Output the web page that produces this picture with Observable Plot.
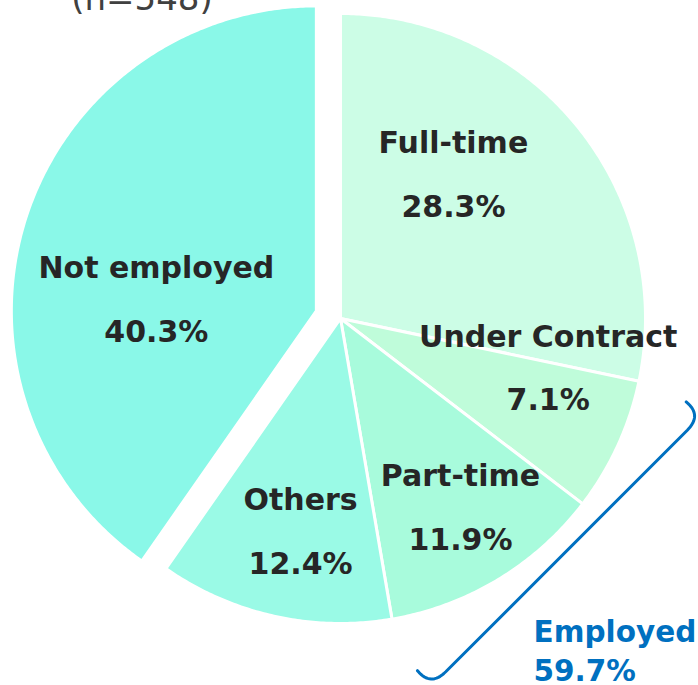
<!DOCTYPE html>
<html><head><meta charset="utf-8">
<script src="https://cdn.jsdelivr.net/npm/d3@7"></script>
<script src="https://cdn.jsdelivr.net/npm/@observablehq/plot@0.6"></script>
<style>html,body{margin:0;padding:0;background:#fff;} #chart{width:698px;height:685px;overflow:hidden}</style>
</head><body><div id="chart"></div>
<script>
// ---- data ----
const categories = ["Full-time", "Under Contract", "Part-time", "Others", "Not employed"];
const shares = [28.3, 7.1, 11.9, 12.4, 40.3];
const valueLabels = ["28.3%", "7.1%", "11.9%", "12.4%", "40.3%"];
const sampleLabel = "(n=548)";
const groupName = "Employed";
const groupMembers = ["Full-time", "Under Contract", "Part-time", "Others"];

// ---- styling / layout ----
const sliceColors = ["#ccfde6", "#bffcda", "#a8fbdc", "#9afae6", "#8af8e8"];
const explode = [0, 0, 0, 0, 0.083];
const labelAngle = [38.1, 103.4, 147.6, 190.6, 274.1];
const labelRadius = [0.60, 0.70, 0.734, 0.711, 0.526];
const bracketLayout = {angle: 135, dist: 1.063, uMin: -0.575, uMax: 0.545, hookOut: 0.07, hookIn: 0.068};
const groupLabelPos = {x: 0.633, y: -1.187};
const sampleLabelPos = {x: -0.651, y: 1.013};

const rad = Math.PI / 180;
const total = d3.sum(shares);
let acc = 0;
const slices = categories.map((c, i) => {
  const a0 = acc / total * 2 * Math.PI; acc += shares[i];
  const a1 = acc / total * 2 * Math.PI; const mid = (a0 + a1) / 2;
  return {name: c, a0, a1, ox: explode[i] * Math.sin(mid), oy: explode[i] * Math.cos(mid)};
});
const slicePoints = slices.flatMap(s => {
  const n = Math.max(2, Math.ceil((s.a1 - s.a0) / rad * 2));
  const pts = [{name: s.name, x: s.ox, y: s.oy}];
  for (let k = 0; k <= n; k++) {
    const a = s.a0 + (s.a1 - s.a0) * k / n;
    pts.push({name: s.name, x: s.ox + Math.sin(a), y: s.oy + Math.cos(a)});
  }
  pts.push({name: s.name, x: s.ox, y: s.oy});
  return pts;
});
const labels = slices.map((s, i) => ({
  x: s.ox + labelRadius[i] * Math.sin(labelAngle[i] * rad),
  y: s.oy + labelRadius[i] * Math.cos(labelAngle[i] * rad),
  text: categories[i] + "\n" + valueLabels[i]
}));

// bracket in (u along, v outward) frame
const B = bracketLayout, phi = B.angle * rad;
const nv = [Math.sin(phi), Math.cos(phi)], tv = [-Math.cos(phi), Math.sin(phi)];
function toXY(u, v) { return {x: u * tv[0] + v * nv[0], y: u * tv[1] + v * nv[1]}; }
function quad(p0, p1, p2, n) { const out = []; for (let k = 0; k <= n; k++) { const t = k / n, m = 1 - t; out.push([m*m*p0[0] + 2*m*t*p1[0] + t*t*p2[0], m*m*p0[1] + 2*m*t*p1[1] + t*t*p2[1]]); } return out; }
const bUV = [
  ...quad([B.uMax + B.hookOut * 0.9, B.dist - B.hookIn], [B.uMax + B.hookOut, B.dist], [B.uMax, B.dist], 16),
  ...quad([B.uMin, B.dist], [B.uMin - B.hookOut, B.dist], [B.uMin - B.hookOut * 0.9, B.dist - B.hookIn], 16)
];
const bracketPts = bUV.map(([u, v]) => toXY(u, v));

const groupValue = d3.sum(groupMembers.map(g => shares[categories.indexOf(g)])).toFixed(1) + "%";

const chart = Plot.plot({
  width: 698, height: 685, margin: 0,
  x: {domain: [-1, 1], range: [35, 645], axis: null},
  y: {domain: [-1, 1], range: [623, 13], axis: null},
  color: {domain: categories, range: sliceColors},
  style: {fontFamily: "'DejaVu Sans', sans-serif", background: "#fff"},
  marks: [
    Plot.line(slicePoints, {x: "x", y: "y", z: "name", fill: "name", stroke: "white", strokeWidth: 3, strokeLinejoin: "round", curve: "linear"}),
    Plot.line(bracketPts, {x: "x", y: "y", stroke: "#0070c0", strokeWidth: 3, strokeLinecap: "round", strokeLinejoin: "round", curve: "linear"}),
    Plot.text(labels, {x: "x", y: "y", text: "text", fontSize: 30, fontWeight: "bold", fill: "#262626", textAnchor: "middle", lineAnchor: "middle", lineHeight: 2.12, dy: -10}),
    Plot.text([groupName + "\n" + groupValue], {x: () => groupLabelPos.x, y: () => groupLabelPos.y, text: d => d, fontSize: 29.5, fontWeight: "bold", fill: "#0070c0", textAnchor: "start", lineAnchor: "bottom", lineHeight: 1.29}),
    Plot.text([sampleLabel], {x: () => sampleLabelPos.x, y: () => sampleLabelPos.y, text: d => d, fontSize: 34, fill: "#404040", textAnchor: "middle", lineAnchor: "bottom"})
  ]
});
document.getElementById("chart").appendChild(chart);
</script>
</body></html>
